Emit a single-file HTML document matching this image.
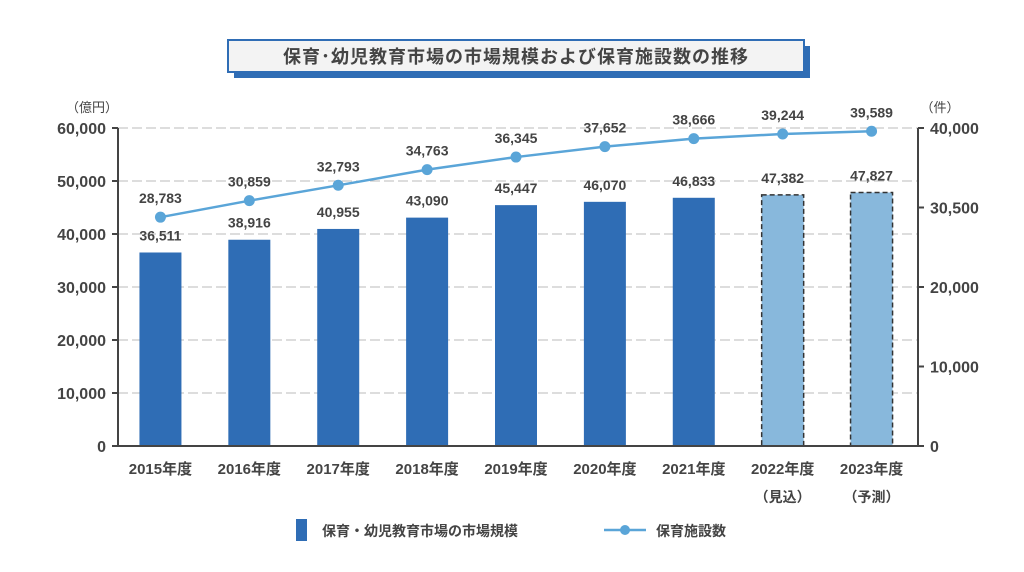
<!DOCTYPE html>
<html><head><meta charset="utf-8"><style>
body{margin:0;background:#fff;}
svg text{font-family:"Liberation Sans","Noto Sans CJK JP",sans-serif;fill:#444;}
</style></head><body>
<svg width="1024" height="567" xmlns="http://www.w3.org/2000/svg" id="chart">
<rect x="234" y="46" width="576" height="32" fill="#2f6db5"/>
<rect x="228" y="40" width="576" height="32" fill="#f3f3f3" stroke="#2f6db5" stroke-width="2"/>
<text x="516" y="63" text-anchor="middle" font-size="18" font-weight="bold" letter-spacing="1">保育･幼児教育市場の市場規模および保育施設数の推移</text>
<g id="grid"></g><g id="bars"></g><g id="line"></g><g id="axes"></g>
<text x="92" y="112" text-anchor="middle" font-size="13">（億円）</text>
<text x="940" y="112" text-anchor="middle" font-size="13">（件）</text>
<rect x="296" y="519" width="11" height="22" fill="#2f6db5"/>
<text x="322" y="536" font-size="14" font-weight="bold">保育・幼児教育市場の市場規模</text>
<line x1="604" y1="530" x2="646" y2="530" stroke="#5aa5d8" stroke-width="2.5"/>
<circle cx="625" cy="530" r="5" fill="#5aa5d8"/>
<text x="656" y="536" font-size="14" font-weight="bold">保育施設数</text>
</svg>
<script>
const categories=["2015年度","2016年度","2017年度","2018年度","2019年度","2020年度","2021年度","2022年度","2023年度"];
const subLabels=["","","","","","","","（見込）","（予測）"];
const marketSize=[36511,38916,40955,43090,45447,46070,46833,47382,47827];
const facilities=[28783,30859,32793,34763,36345,37652,38666,39244,39589];
const leftTicks=[0,10000,20000,30000,40000,50000,60000];
const rightTicks=[0,10000,20000,30000,40000];
const rightTickLabels=["0","10,000","20,000","30,500","40,000"];
const estimated=[false,false,false,false,false,false,false,true,true];
const NS="http://www.w3.org/2000/svg";
const x0=118,x1=918,yB=446,yT=128,step=(x1-x0)/categories.length;
const xC=i=>x0+step*(i+0.5)-2;
const yL=v=>yB-v/60000*(yB-yT);
const yR=v=>yB-v/40000*(yB-yT);
const fmt=v=>v.toLocaleString("en-US");
function mk(tag,attrs,parent,txt){const e=document.createElementNS(NS,tag);for(const k in attrs)e.setAttribute(k,attrs[k]);if(txt!==undefined)e.textContent=txt;document.getElementById(parent).appendChild(e);return e;}
leftTicks.forEach(t=>{
 if(t>0){const g=mk("line",{x1:x0,x2:x1,y1:yL(t),y2:yL(t),stroke:"#bbb","stroke-dasharray":"10,4"},"grid");
 
 }
 const l=mk("text",{x:x0-12,y:yL(t)+6,"text-anchor":"end","font-size":"16","font-weight":"bold"},"axes",fmt(t));
 
 
 const tk=mk("line",{x1:x0-6,x2:x0,y1:yL(t),y2:yL(t),stroke:"#444","stroke-width":2},"axes");
 
 
});
rightTicks.forEach((t,i)=>{
 const l=mk("text",{x:x1+12,y:yR(t)+6,"font-size":"16","font-weight":"bold"},"axes",rightTickLabels[i]);
 
 
 const tk=mk("line",{x1:x1,x2:x1+6,y1:yR(t),y2:yR(t),stroke:"#444","stroke-width":2},"axes");
 
 
});
[[x0,yT,x0,yB],[x1,yT,x1,yB],[x0,yB,x1,yB]].forEach(a=>{
 const ln=mk("line",{x1:a[0],y1:a[1],x2:a[2],y2:a[3],stroke:"#444","stroke-width":2},"axes");
 
 
});
const bw=42;
marketSize.forEach((v,i)=>{
 const est=estimated[i];
 const r=mk("rect",{x:xC(i)-bw/2,y:yL(v),width:bw,height:yB-yL(v),fill:est?"#88b8dc":"#2f6db5",stroke:est?"#333":"none","stroke-dasharray":est?"5,3":"","stroke-width":1.5},"bars");
 
 
 const t=mk("text",{x:xC(i),y:yL(v)-12,"text-anchor":"middle","font-size":"14","font-weight":"bold"},"bars",fmt(v));
 
 
 const c=mk("text",{x:xC(i),y:yB+28,"text-anchor":"middle","font-size":"15","font-weight":"bold"},"axes",categories[i]);
 
 
 if(subLabels[i]){const s=mk("text",{x:xC(i),y:yB+56,"text-anchor":"middle","font-size":"14","font-weight":"bold"},"axes",subLabels[i]);
 
 }
});
const pts=facilities.map((v,i)=>xC(i)+","+yR(v)).join(" ");
const pl=mk("polyline",{points:pts,fill:"none",stroke:"#5aa5d8","stroke-width":2.5},"line");


facilities.forEach((v,i)=>{
 const c=mk("circle",{cx:xC(i),cy:yR(v),r:5.5,fill:"#5aa5d8"},"line");
 
 
 const t=mk("text",{x:xC(i),y:yR(v)-14,"text-anchor":"middle","font-size":"14","font-weight":"bold"},"line",fmt(v));
 
 
});
</script>
</body></html>
